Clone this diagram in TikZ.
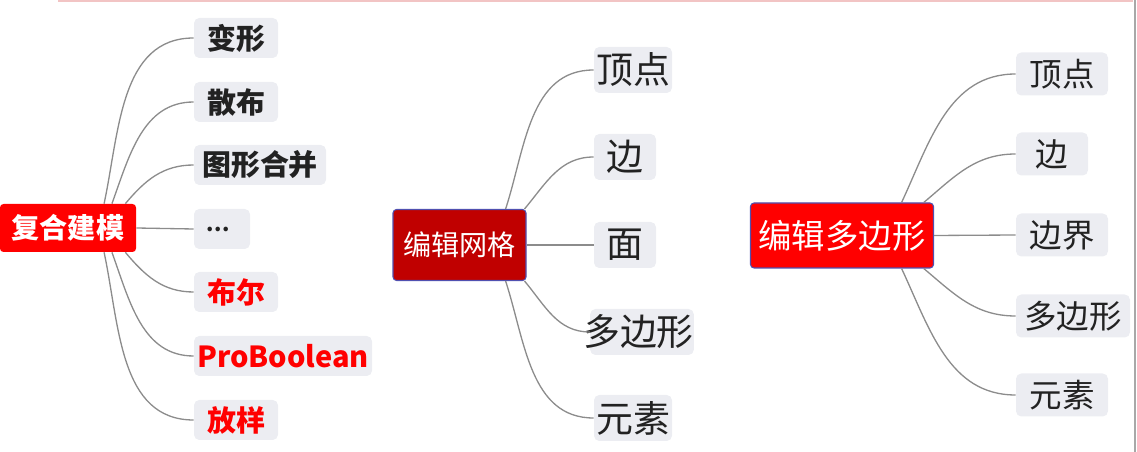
\documentclass[tikz,border=0pt]{standalone}
\usepackage{fontspec}
\setmainfont{Noto Sans CJK SC}
\usetikzlibrary{positioning}

\definecolor{rootred}{HTML}{FF0000}
\definecolor{darkroot}{HTML}{C00000}
\definecolor{rootedge}{HTML}{5050B0}
\definecolor{leaffill}{HTML}{ECEDF2}
\definecolor{leaftext}{HTML}{222222}
\definecolor{branchgray}{HTML}{8C8C8C}
\definecolor{topline}{HTML}{F2C4C4}
\definecolor{rimgray}{HTML}{A8A8A8}

\begin{document}
\begin{tikzpicture}[
  x=0.02cm, y=-0.02cm,
  root/.style={rectangle, rounded corners=2pt, inner sep=0pt, text=white},
  leaf/.style={rectangle, rounded corners=3pt, inner sep=0pt, fill=leaffill, text=leaftext},
  branch/.style={draw=branchgray, line width=0.75pt}
]
  \useasboundingbox (0,0) rectangle (1137,452);
  \draw[topline, line width=1pt] (58,1) -- (1133,1);
  \draw[rimgray, line width=1.2pt] (1135,0) -- (1135,452);

  % left map
  \node[root, fill=rootred, minimum width=136*0.02cm, minimum height=48*0.02cm,
        font=\bfseries\fontsize{16}{16}\selectfont] (fuhe) at (68,228) {复合建模};
  \begin{scope}[every node/.style={leaf, minimum height=40*0.02cm, font=\bfseries\fontsize{16.5}{17}\selectfont}]
    \node[minimum width=84*0.02cm] (bianxing) at (236,38) {变形};
    \node[minimum width=84*0.02cm] (sanbu) at (236,102) {散布};
    \node[minimum width=132*0.02cm] (tuxing) at (260,165) {图形合并};
    \node[minimum width=56*0.02cm, font=\bfseries\fontsize{12}{12}\selectfont] (dots) at (222,229) {\raisebox{-3pt}{.\kern0.3pt.\kern0.3pt.}\hspace*{4pt}};
    \node[minimum width=84*0.02cm, text=rootred] (buer) at (236,292) {布尔};
    \node[minimum width=178*0.02cm, text=rootred] (probool) at (283,356) {ProBoolean};
    \node[minimum width=84*0.02cm, text=rootred] (fangyang) at (236,420) {放样};
  \end{scope}
  \draw[branch] (fuhe.34) to[out=78, in=180] (bianxing.west);
  \draw[branch] (fuhe.29) to[out=70, in=180] (sanbu.west);
  \draw[branch] (fuhe.23) to[out=50, in=180] (tuxing.west);
  \draw[branch] (fuhe.east) -- (dots.west);
  \draw[branch] (fuhe.-23) to[out=-50, in=180] (buer.west);
  \draw[branch] (fuhe.-29) to[out=-70, in=180] (probool.west);
  \draw[branch] (fuhe.-34) to[out=-78, in=180] (fangyang.west);

  % middle map
  \node[root, fill=darkroot, draw=rootedge, line width=0.6pt,
        minimum width=133*0.02cm, minimum height=71*0.02cm,
        font=\fontsize{16}{16}\selectfont] (wangge) at (459.5,245) {编辑网格};
  \begin{scope}[every node/.style={leaf, minimum height=46*0.02cm, font=\fontsize{21}{21}\selectfont}]
    \node[minimum width=78*0.02cm] (wdingdian) at (633,70) {顶点};
    \node[minimum width=62*0.02cm] (wbian) at (625,157) {边};
    \node[minimum width=62*0.02cm] (wmian) at (625,245) {面};
    \node[minimum width=96*0.02cm] (wduobian) at (642,332) {\hspace*{-4pt}多边形};
    \node[minimum width=78*0.02cm] (wyuansu) at (633,418) {元素};
  \end{scope}
  \draw[branch] (wangge.38) to[out=72, in=180] (wdingdian.west);
  \draw[branch] (wangge.29.5) to[out=50, in=180] (wbian.west);
  \draw[branch] (wangge.east) -- (wmian.west);
  \draw[branch] (wangge.-29.5) to[out=-50, in=180] (wduobian.west);
  \draw[branch] (wangge.-38) to[out=-72, in=180] (wyuansu.west);

  % right map
  \node[root, fill=rootred, draw=rootedge, line width=0.6pt,
        minimum width=183*0.02cm, minimum height=65*0.02cm,
        font=\fontsize{19}{19}\selectfont] (duobian) at (842,235.5) {编辑多边形};
  \begin{scope}[every node/.style={leaf, minimum height=43*0.02cm, font=\fontsize{18.5}{19}\selectfont}]
    \node[minimum width=92*0.02cm] (ddingdian) at (1062,74) {顶点};
    \node[minimum width=72*0.02cm] (dbian) at (1052,154) {边};
    \node[minimum width=92*0.02cm] (dbianjie) at (1062,235) {边界};
    \node[minimum width=114*0.02cm] (dduobian) at (1073,316) {多边形};
    \node[minimum width=92*0.02cm] (dyuansu) at (1062,395) {元素};
  \end{scope}
  \draw[branch] (duobian.29) to[out=65, in=180] (ddingdian.west);
  \draw[branch] (duobian.22) to[out=40, in=180] (dbian.west);
  \draw[branch] (duobian.east) -- (dbianjie.west);
  \draw[branch] (duobian.-22) to[out=-40, in=180] (dduobian.west);
  \draw[branch] (duobian.-29) to[out=-65, in=180] (dyuansu.west);
\end{tikzpicture}
\end{document}
